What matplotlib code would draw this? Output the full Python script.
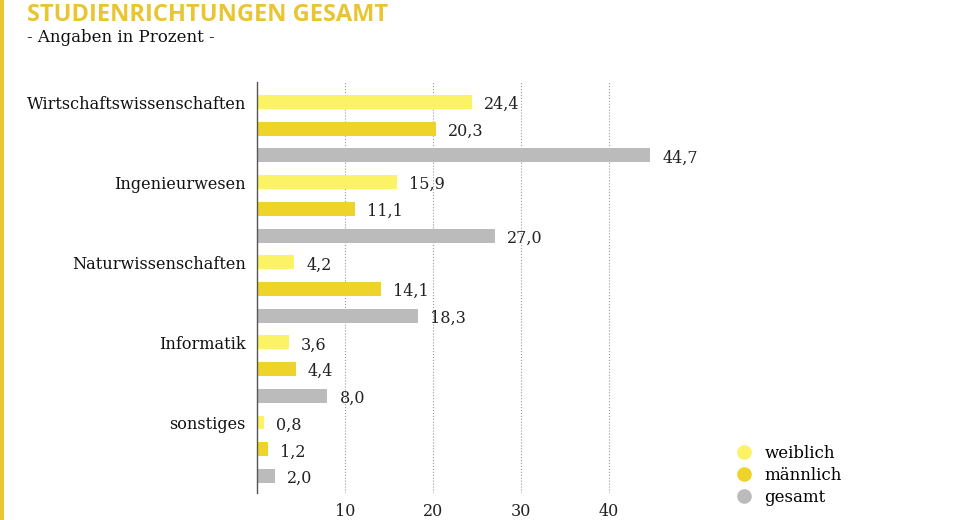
import numpy as np
import matplotlib
matplotlib.use('Agg')
import matplotlib.pyplot as plt
from matplotlib.lines import Line2D

# Daten (Angaben in Prozent)
kategorien = ['Wirtschaftswissenschaften', 'Ingenieurwesen', 'Naturwissenschaften',
              'Informatik', 'sonstiges']
weiblich = [24.4, 15.9, 4.2, 3.6, 0.8]
maennlich = [20.3, 11.1, 14.1, 4.4, 1.2]
gesamt = [44.7, 27.0, 18.3, 8.0, 2.0]
ticks = [10, 20, 30, 40]
serien = ['weiblich', 'männlich', 'gesamt']

farben = ['#FBF266', '#EED42A', '#BBBBBB']
gelb = '#E9C532'
serif = 'DejaVu Serif'

fig = plt.figure(figsize=(9.66, 5.2), dpi=100)
ax = fig.add_axes([257 / 966, 27 / 520, 440 / 966, 411 / 520])

n = len(kategorien)
for s, werte in enumerate([weiblich, maennlich, gesamt]):
    pos = np.arange(n) * 3 + s
    ax.barh(pos, werte, height=0.52, color=farben[s], zorder=2)
    for p, v in zip(pos, werte):
        ax.text(v + 1.4, p + 0.1, f'{v:.1f}'.replace('.', ','), va='center', ha='left',
                fontsize=11.5, family=serif, color='#222222')

ax.set_xlim(0, 50)
ax.set_ylim(14.64, -0.75)
ax.set_yticks(np.arange(n) * 3)
ax.set_yticklabels(kategorien, family=serif, fontsize=11.6, color='#111111')
ax.set_xticks(ticks)
ax.set_xticklabels([str(t) for t in ticks], family=serif, fontsize=11.5, color='#222222')
ax.tick_params(axis='both', length=0)
ax.tick_params(axis='y', pad=8)
ax.tick_params(axis='x', pad=7)
ax.grid(axis='x', linestyle=':', color='#999999', linewidth=0.8, zorder=0)
for sp in ['top', 'right', 'bottom']:
    ax.spines[sp].set_visible(False)
ax.spines['left'].set_color('#555555')
ax.spines['left'].set_linewidth(1.0)

# Titel
fig.text(27 / 966, 1 - 21 / 520, 'STUDIENRICHTUNGEN GESAMT', fontsize=17, fontweight='bold',
         family='Open Sans', color=gelb, va='baseline', ha='left')
fig.text(27 / 966, 1 - 38 / 520, '- Angaben in Prozent -', fontsize=12, family=serif,
         color='#111111', va='center', ha='left')
fig.add_artist(plt.Rectangle((0, 0), 4 / 966, 1, transform=fig.transFigure, color=gelb, lw=0))

# Legende
handles = [Line2D([], [], marker='o', linestyle='', markersize=9.5, color=c) for c in farben]
fig.legend(handles, serien, loc='upper left', bbox_to_anchor=(727 / 966, 1 - 438 / 520),
           frameon=False, prop={'family': serif, 'size': 12}, handletextpad=0.65,
           handlelength=1.2, labelspacing=0.3, borderaxespad=0)

fig.savefig('out.png', dpi=100)
